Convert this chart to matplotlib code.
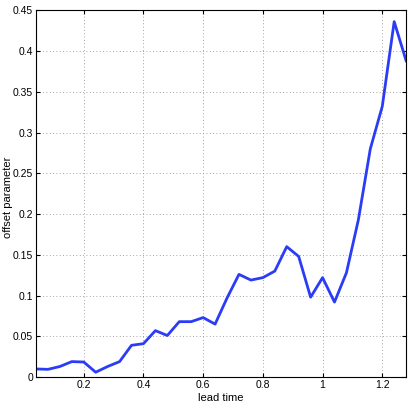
import numpy as np
import matplotlib
matplotlib.use("Agg")
import matplotlib.pyplot as plt

plt.rcParams['font.family'] = ['Liberation Sans', 'DejaVu Sans']

lead_time = [0.04, 0.08, 0.12, 0.16, 0.20, 0.24, 0.28, 0.32, 0.36, 0.40,
             0.44, 0.48, 0.52, 0.56, 0.60, 0.64, 0.68, 0.72, 0.76, 0.80,
             0.84, 0.88, 0.92, 0.96, 1.00, 1.04, 1.08, 1.12, 1.16, 1.20,
             1.24, 1.28]
offset = [0.010, 0.0095, 0.013, 0.019, 0.0185, 0.006, 0.013, 0.019, 0.039, 0.041,
          0.057, 0.051, 0.068, 0.068, 0.073, 0.065, 0.097, 0.126, 0.119, 0.122,
          0.130, 0.160, 0.148, 0.098, 0.122, 0.092, 0.128, 0.193, 0.280, 0.332,
          0.436, 0.388]

fig = plt.figure(figsize=(4.09, 4.09), dpi=100)
ax = fig.add_axes([0.088, 0.078, 0.905, 0.897])
ax.plot(lead_time, offset, color='#2b3cf6', linewidth=2)

ax.set_xlim(0.04, 1.28)
ax.set_ylim(0, 0.45)
ax.set_xticks([0.2, 0.4, 0.6, 0.8, 1.0, 1.2])
ax.set_xticklabels(['0.2', '0.4', '0.6', '0.8', '1', '1.2'])
ax.set_yticks(np.arange(0, 0.451, 0.05))
ax.set_yticklabels(['0', '0.05', '0.1', '0.15', '0.2', '0.25', '0.3', '0.35', '0.4', '0.45'])
ax.grid(True, linestyle=(0, (1, 3)), color='#888888', linewidth=0.6)
ax.tick_params(direction='in', labelsize=7.5, length=3, pad=2, top=True, right=True)
ax.set_xlabel('lead time', fontsize=8, labelpad=2)
ax.set_ylabel('offset parameter', fontsize=8, va='center')
ax.yaxis.set_label_coords(-0.075, 0.49)
for s in ax.spines.values():
    s.set_linewidth(0.8)

fig.savefig('out.png', dpi=100)
